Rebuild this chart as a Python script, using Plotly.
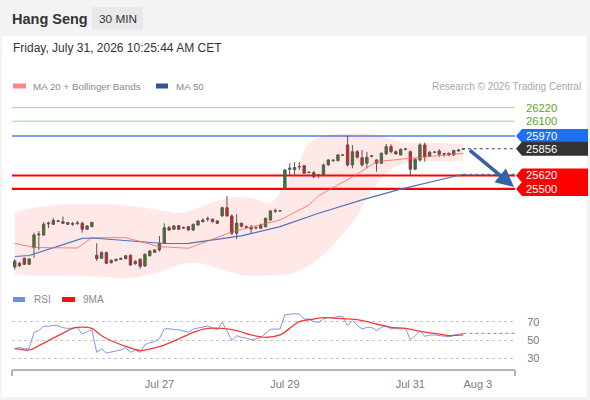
import plotly.graph_objects as go

# ---------------- data ----------------
bar_index = list(range(94))
opens = [24809, 24821, 24886, 24833, 24980, 25093, 25093, 25190, 25187, 25215,
         25210, 25202, 25187, 25196, 25196, 25143, 25166, 24913, 24886, 24936,
         24847, 24865, 24876, 24883, 24913, 24840, 24878, 24818, 24909, 24939,
         24960, 25019, 25157, 25143, 25175, 25159, 25166, 25137, 25181, 25210,
         25232, 25232, 25217, 25261, 25334, 25261, 25108, 25196, 25166, 25161,
         25155, 25152, 25166, 25225, 25303, 25305, 25506, 25674, 25673, 25699,
         25706, 25646, 25644, 25624, 25624, 25713, 25751, 25751, 25801, 25890,
         25713, 25830, 25777, 25728, 25790, 25757, 25728, 25810, 25875, 25830,
         25801, 25851, 25830, 25675, 25757, 25890, 25792, 25825, 25836, 25812,
         25816, 25801, 25836, 25851]
highs = [24876, 24853, 24893, 24889, 25113, 25128, 25208, 25210, 25243, 25225,
         25256, 25208, 25208, 25217, 25210, 25181, 25208, 25019, 24946, 24946,
         24876, 24885, 24893, 24915, 24920, 24871, 24885, 24929, 24960, 24968,
         25084, 25196, 25172, 25181, 25181, 25168, 25172, 25194, 25225, 25239,
         25255, 25239, 25221, 25343, 25438, 25276, 25276, 25203, 25177, 25181,
         25172, 25194, 25247, 25314, 25327, 25312, 25677, 25728, 25737, 25737,
         25712, 25655, 25662, 25633, 25726, 25766, 25766, 25810, 25806, 25972,
         25890, 25845, 25845, 25830, 25801, 25763, 25823, 25898, 25896, 25841,
         25858, 25863, 25839, 25770, 25905, 25910, 25837, 25832, 25852, 25819,
         25823, 25848, 25852, 25860]
lows = [24787, 24809, 24827, 24827, 24889, 24960, 25084, 25154, 25181, 25205,
        25190, 25181, 25172, 25181, 25113, 25137, 25163, 24862, 24880, 24836,
        24840, 24858, 24871, 24876, 24818, 24827, 24792, 24809, 24902, 24933,
        24945, 25013, 25128, 25137, 25137, 25146, 25128, 25128, 25172, 25203,
        25210, 25203, 25190, 25255, 25255, 25093, 25054, 25159, 25150, 25106,
        25141, 25146, 25159, 25217, 25287, 25300, 25494, 25624, 25624, 25668,
        25633, 25637, 25595, 25595, 25615, 25704, 25739, 25744, 25792, 25698,
        25683, 25770, 25698, 25683, 25779, 25653, 25722, 25801, 25816, 25806,
        25797, 25841, 25624, 25668, 25742, 25742, 25783, 25817, 25786, 25786,
        25792, 25792, 25830, 25845]
closes = [24862, 24842, 24833, 24880, 25093, 25100, 25187, 25198, 25221, 25217,
          25196, 25187, 25194, 25199, 25143, 25172, 25205, 24884, 24939, 24842,
          24868, 24876, 24885, 24909, 24827, 24858, 24815, 24922, 24951, 24960,
          25019, 25157, 25137, 25172, 25143, 25155, 25137, 25187, 25217, 25225,
          25237, 25210, 25196, 25334, 25261, 25108, 25196, 25170, 25161, 25146,
          25157, 25181, 25240, 25305, 25308, 25307, 25668, 25683, 25690, 25697,
          25639, 25648, 25609, 25621, 25713, 25757, 25754, 25801, 25798, 25713,
          25830, 25781, 25713, 25781, 25795, 25728, 25816, 25875, 25830, 25810,
          25851, 25854, 25675, 25763, 25890, 25786, 25825, 25827, 25807, 25810,
          25801, 25840, 25845, 25856]

ma20_idx = [0, 4, 13, 16, 23, 30, 36, 45, 49, 55, 61, 63, 70, 75, 80, 86, 93]
ma20_val = [25019, 24982, 24977, 25069, 25069, 24989, 24975, 25119, 25163, 25225,
            25358, 25440, 25606, 25742, 25763, 25790, 25816]

ma50_idx = [0, 3, 14, 16, 31, 36, 47, 55, 63, 72, 80, 88, 93]
ma50_val = [24902, 24911, 25062, 25066, 25017, 25019, 25084, 25166, 25285, 25403,
            25498, 25580, 25630]

bb_idx = [0, 5, 12, 18, 24, 30, 34, 38, 42, 46, 50, 53, 56, 59, 61, 65, 67, 70,
          74, 77, 81, 86, 93]
bb_upper = [25296, 25341, 25367, 25367, 25349, 25314, 25287, 25332, 25394, 25429,
            25411, 25376, 25535, 25740, 25907, 25978, 25990, 25996, 25987, 25952,
            25907, 25910, 25900]
bb_lower = [24747, 24730, 24730, 24721, 24712, 24765, 24827, 24845, 24800, 24747,
            24730, 24735, 24739, 24775, 24820, 24960, 25050, 25200, 25480, 25640,
            25730, 25745, 25750]

rsi_val = [40.2, 42, 40.2, 41, 58.4, 60.2, 65, 65, 66, 65.6,
           63.5, 62.7, 63, 63.5, 56.5, 59, 61.3, 36.5, 40.2, 35.8,
           37.3, 38, 39.1, 41.6, 36.5, 39.1, 36.5, 44.9, 47.1, 48.2,
           51.8, 62, 62.4, 61.3, 61.3, 60.2, 58.4, 62, 63.1, 64.5,
           65.3, 63.1, 61.3, 69.3, 60.2, 49.3, 54.7, 52.9, 52.2, 50.4,
           51.1, 52.9, 57.6, 61.6, 62, 62, 77.6, 78.4, 78.7, 78.4,
           72.9, 72.9, 70, 69.3, 72.9, 74.7, 74, 75.8, 75.8, 65.6,
           71.1, 66.4, 62, 63.8, 63.8, 60.2, 63.8, 65.6, 62, 62.7,
           62, 62.7, 50.4, 54.7, 60.2, 54, 55.5, 55.5, 54.7, 54,
           53.6, 55.5, 56.5, 57.3]

ma9_idx = [0, 3, 5, 7, 10, 12, 13, 16, 18, 21, 23, 26, 28, 31, 34, 37, 40, 43,
           46, 49, 52, 55, 57, 59, 62, 64, 67, 71, 75, 78, 81, 84, 87, 90, 93]
ma9_val = [40.9, 39.1, 43.8, 49.3, 57.5, 62.7, 63.8, 62.7, 54.7, 47.0, 43.1, 38.4,
           40.2, 44.5, 51.1, 58.4, 62.7, 62.7, 60.2, 55.5, 52.9, 55.5, 62.7, 70.0,
           72.9, 74.4, 73.6, 72.2, 67.5, 63.8, 62.7, 59.5, 57.3, 54.7, 55.5]

tick_pos = [30, 56, 82, 96]
tick_text = ["Jul 27", "Jul 29", "Jul 31", "Aug 3"]

levels = [26220, 26100, 25970, 25856, 25620, 25500]
last_price = 25856
ma50_last = 25630
rsi_last = 57.3
target_price = 25518

rsi_ticks = [30, 50, 70]

# ---------------- geometry / style ----------------
W, H = 590, 400
L, R, T, B = 12, 515, 95, 370   # plot area in pixels
ML, MR, MT, MB = L, W - R, T, H - B
FONT = "Liberation Sans, Arial, sans-serif"


def px(v):
    return (v - L) / (R - L)


def py(v):
    return (B - v) / (B - T)


X_RANGE = [-0.56, 103.7]
last_i = bar_index[-1]

fig = go.Figure()

# Bollinger band fill
fig.add_trace(go.Scatter(x=bb_idx, y=bb_upper, mode="lines", line=dict(width=0, shape="spline"),
                         hoverinfo="skip", showlegend=False, xaxis="x", yaxis="y"))
fig.add_trace(go.Scatter(x=bb_idx, y=bb_lower, mode="lines", line=dict(width=0, shape="spline"),
                         fill="tonexty", fillcolor="rgba(255,50,50,0.11)",
                         hoverinfo="skip", showlegend=False, xaxis="x", yaxis="y"))
# MA lines
fig.add_trace(go.Scatter(x=ma50_idx, y=ma50_val, mode="lines",
                         line=dict(color="#4f73b8", width=1.2), hoverinfo="skip",
                         showlegend=False, xaxis="x", yaxis="y"))
fig.add_trace(go.Scatter(x=[ma50_idx[-1], X_RANGE[1]], y=[ma50_last, ma50_last], mode="lines",
                         line=dict(color="#4f73b8", width=1.2, dash="dot"), hoverinfo="skip",
                         showlegend=False, xaxis="x", yaxis="y"))
fig.add_trace(go.Scatter(x=ma20_idx, y=ma20_val, mode="lines",
                         line=dict(color="rgba(255,90,90,0.75)", width=1), hoverinfo="skip",
                         showlegend=False, xaxis="x", yaxis="y"))

# candles
fig.add_trace(go.Candlestick(
    x=bar_index, open=opens, high=highs, low=lows, close=closes,
    increasing=dict(fillcolor="#1e8c1e", line=dict(color="#505a50", width=1)),
    decreasing=dict(fillcolor="#e8141c", line=dict(color="#5a5050", width=1)),
    whiskerwidth=0, showlegend=False, hoverinfo="skip", xaxis="x", yaxis="y"))

# RSI panel
fig.add_trace(go.Scatter(x=bar_index, y=rsi_val, mode="lines",
                         line=dict(color="#7b98ea", width=1), hoverinfo="skip",
                         showlegend=False, xaxis="x2", yaxis="y2"))
fig.add_trace(go.Scatter(x=[last_i, X_RANGE[1]], y=[rsi_last, rsi_last], mode="lines",
                         line=dict(color="#7b98ea", width=1.2, dash="dot"), hoverinfo="skip",
                         showlegend=False, xaxis="x2", yaxis="y2"))
fig.add_trace(go.Scatter(x=ma9_idx, y=ma9_val, mode="lines",
                         line=dict(color="#f23a3a", width=1.3, shape="spline", smoothing=0.8),
                         hoverinfo="skip", showlegend=False, xaxis="x2", yaxis="y2"))

shapes = []
annotations = []

# page backgrounds
shapes.append(dict(type="rect", xref="paper", yref="paper", x0=px(2), x1=px(587),
                   y0=py(397), y1=py(36), fillcolor="white", line=dict(width=0), layer="below"))
shapes.append(dict(type="rect", xref="paper", yref="paper", x0=px(92), x1=px(143),
                   y0=py(30), y1=py(7), fillcolor="#e9e9ec", line=dict(width=0), layer="below"))

# level lines & tags
level_style = [
    dict(line="#a9d28f", lw=1, tag=None, txt="#5ea31c"),
    dict(line="#a9d28f", lw=1, tag=None, txt="#5ea31c"),
    dict(line="#4a80f0", lw=1.5, tag="#1f6ef2", txt="white"),
    dict(line="#333333", lw=1, tag="#333333", txt="white"),
    dict(line="#ff0000", lw=2, tag="#ff0000", txt="white"),
    dict(line="#ff0000", lw=2.2, tag="#ff0000", txt="white"),
]
for lv, st in zip(levels, level_style):
    if lv == last_price:
        shapes.append(dict(type="line", xref="x", yref="y", x0=last_i + 0.9, x1=X_RANGE[1],
                           y0=lv, y1=lv, line=dict(color="#444", width=1, dash="dot"), layer="below"))
    else:
        shapes.append(dict(type="line", xref="paper", yref="y", x0=0, x1=1, y0=lv, y1=lv,
                           line=dict(color=st["line"], width=st["lw"]), layer="below"))
    if st["tag"]:
        shapes.append(dict(type="path", xref="paper", yref="y", xsizemode="pixel",
                           ysizemode="pixel", xanchor=1, yanchor=lv,
                           path="M 1,0 L 7,7 L 73,7 L 73,-7 L 7,-7 Z",
                           fillcolor=st["tag"], line=dict(width=0), layer="above"))
    annotations.append(dict(xref="paper", yref="y", x=1, y=lv, xanchor="left", yanchor="middle",
                            xshift=9, text=str(lv), showarrow=False,
                            font=dict(family=FONT, size=11.2, color=st["txt"])))

# forecast arrow
annotations.append(dict(xref="x", yref="y", axref="x", ayref="y", x=X_RANGE[1] - 0.2,
                        y=target_price, ax=last_i + 1.0, ay=last_price, text="",
                        showarrow=True, arrowhead=2, arrowsize=1, arrowwidth=3.6,
                        arrowcolor="#3264a6", standoff=0, startstandoff=0))

# RSI axis bracket
shapes.append(dict(type="line", xref="paper", yref="paper", x0=0, x1=1, y0=py(370), y1=py(370),
                   line=dict(color="#b5b5b5", width=2)))
for xe in (0, 1):
    shapes.append(dict(type="line", xref="paper", yref="paper", x0=xe, x1=xe,
                       y0=py(370), y1=py(376), line=dict(color="#b5b5b5", width=2)))

# legend swatches
for (x0, x1, yc, col) in [(13, 26, 86, "#ff8585"), (156, 168, 86, "#2f5597"),
                          (13, 25, 299.5, "#6f8fe8"), (62, 75, 299.5, "#ff1010")]:
    shapes.append(dict(type="rect", xref="paper", yref="paper", x0=px(x0), x1=px(x1),
                       y0=py(yc + 2.5), y1=py(yc - 2.5), fillcolor=col, line=dict(width=0)))


def txt(x, y, s, size, color, anchor="left", bold=False):
    annotations.append(dict(xref="paper", yref="paper", x=px(x), y=py(y), xanchor=anchor,
                            yanchor="middle", text=(f"<b>{s}</b>" if bold else s),
                            showarrow=False, font=dict(family=FONT, size=size, color=color)))


txt(10, 18.5, "Hang Seng", 14.5, "#333333", bold=True)
txt(117.5, 19, "30 MIN", 11.8, "#333333", anchor="center")
txt(11, 48.5, "Friday, July 31, 2026 10:25:44 AM CET", 12, "#333333")
txt(31, 86, "MA 20 + Bollinger Bands", 9.8, "#8a8a8a")
txt(174, 86, "MA 50", 9.8, "#8a8a8a")
txt(583, 86, "Research © 2026 Trading Central", 10, "#a8a8a8", anchor="right")
txt(32, 299.5, "RSI", 10, "#8a8a8a")
txt(81, 299.5, "9MA", 10, "#8a8a8a")

fig.update_layout(
    width=W, height=H, margin=dict(l=ML, r=MR, t=MT, b=MB, autoexpand=False),
    paper_bgcolor="#f3f3f4", plot_bgcolor="white",
    font=dict(family=FONT, color="#7a7a7a"),
    showlegend=False, hovermode=False,
    shapes=shapes, annotations=annotations,
    xaxis=dict(domain=[0, 1], range=X_RANGE, showgrid=False, zeroline=False,
               showticklabels=False, ticks="", rangeslider=dict(visible=False),
               anchor="y", matches="x2"),
    yaxis=dict(domain=[py(280), 1], range=[24694, 26332], showgrid=False, zeroline=False,
               showticklabels=False, ticks=""),
    xaxis2=dict(domain=[0, 1], range=X_RANGE, showgrid=False, zeroline=False, anchor="y2",
                tickmode="array", tickvals=tick_pos, ticktext=tick_text, ticks="outside",
                ticklen=4, tickcolor="rgba(0,0,0,0)", tickfont=dict(size=11, color="#7a7a7a"),
                showline=False, rangeslider=dict(visible=False)),
    yaxis2=dict(domain=[0, py(309)], range=[17.2, 83.9], side="right", anchor="x2",
                tickmode="array", tickvals=rsi_ticks, showgrid=True, gridcolor="#c4c4c4",
                griddash="dot", gridwidth=1, zeroline=False, ticks="outside", ticklen=9,
                tickcolor="rgba(0,0,0,0)", tickfont=dict(size=11, color="#7a7a7a")),
)

fig.write_html("out.html", config={"displayModeBar": False},
               post_script="document.body.style.margin='0';document.body.style.overflow='hidden';")
